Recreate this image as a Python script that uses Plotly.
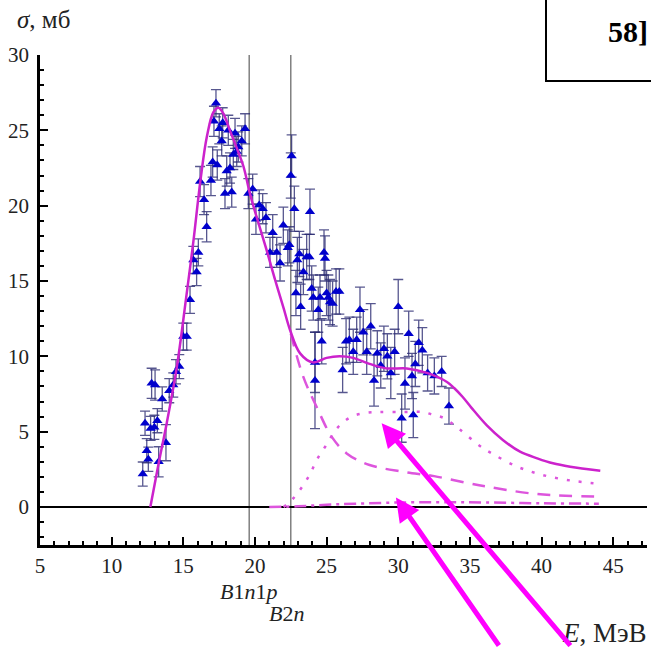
import plotly.graph_objects as go

# ---------------- data ----------------
exp_E = [12.17, 12.33, 12.45, 12.56, 12.72, 12.79, 12.98, 13.03, 13.19, 13.28,
         13.53, 13.79, 14.02, 14.30, 14.49, 14.72, 15.00, 15.24, 15.47, 15.70,
         15.93, 16.05, 16.17, 16.45, 16.63, 16.93, 17.05, 17.14, 17.28, 17.37,
         17.51, 17.68, 17.75, 17.91, 18.03, 18.14, 18.26, 18.38, 18.49, 18.61,
         18.73, 18.84, 19.08, 19.31, 19.54, 19.84, 20.07, 20.30, 20.54, 20.77,
         21.05, 21.24, 21.52, 21.75, 21.98, 22.29, 22.40, 22.50, 22.56, 22.75,
         22.86, 22.96, 23.10, 23.19, 23.38, 23.61, 23.80, 23.84, 23.96, 24.07,
         24.19, 24.19, 24.42, 24.54, 24.66, 24.82, 24.89, 25.00, 25.12, 25.24,
         25.42, 25.66, 25.89, 26.12, 26.36, 26.59, 26.86, 27.10, 27.33, 27.56,
         27.80, 28.08, 28.31, 28.54, 28.78, 29.00, 29.24, 29.48, 29.75, 30.00,
         30.24, 30.47, 30.73, 30.96, 31.05, 31.19, 31.43, 31.68, 32.05, 32.52,
         33.03, 33.54]
exp_sigma = [2.19, 5.56, 3.74, 3.17, 5.22, 8.21, 5.29, 8.10, 5.73, 3.00,
             7.17, 4.27, 7.72, 8.10, 8.98, 9.32, 11.31, 11.31, 13.75, 16.40,
             15.60, 16.90, 21.60, 20.40, 18.60, 21.67, 22.90, 25.60, 26.80, 22.70,
             25.10, 24.30, 25.50, 20.80, 22.30, 25.00, 22.50, 20.90, 23.40, 24.80,
             23.60, 23.90, 24.30, 25.10, 20.80, 21.10, 19.10, 20.05, 19.80, 19.20,
             16.90, 18.20, 16.90, 16.20, 18.70, 17.20, 17.40, 22.00, 23.30, 19.80,
             14.20, 16.40, 16.80, 13.30, 15.60, 16.60, 16.60, 19.60, 14.50, 13.90,
             9.60, 8.40, 13.10, 13.90, 11.00, 16.90, 16.50, 14.20, 13.90, 13.60,
             13.50, 14.30, 14.30, 9.10, 11.00, 11.10, 10.30, 11.10, 13.10, 11.60,
             10.30, 12.00, 8.40, 10.20, 9.40, 10.50, 10.00, 8.90, 10.30, 13.30,
             5.90, 8.20, 11.50, 8.70, 6.10, 9.50, 10.90, 10.40, 8.90, 8.70,
             9.00, 6.70]
exp_err = [0.8, 0.8, 0.8, 0.8, 0.8, 1.0, 0.8, 1.0, 0.8, 1.0,
           0.8, 1.2, 0.8, 0.8, 0.8, 0.8, 0.9, 0.9, 0.9, 0.9,
           0.9, 0.9, 1.0, 1.0, 1.0, 1.0, 1.0, 1.0, 0.9, 1.0,
           1.0, 1.0, 1.0, 1.0, 1.0, 1.0, 1.0, 1.0, 1.0, 1.0,
           1.0, 1.0, 1.0, 1.0, 1.0, 1.0, 1.0, 1.0, 1.0, 1.0,
           1.0, 1.2, 1.0, 1.2, 1.2, 1.2, 1.2, 1.5, 1.4, 1.5,
           1.5, 1.5, 1.5, 1.5, 1.5, 1.5, 1.5, 1.5, 1.5, 1.5,
           2.0, 3.2, 1.5, 1.5, 1.5, 1.5, 1.5, 1.5, 1.5, 1.5,
           1.5, 1.5, 1.5, 1.5, 1.5, 1.5, 1.5, 1.5, 1.5, 1.5,
           1.5, 1.5, 1.7, 1.5, 1.5, 1.5, 1.5, 1.7, 1.5, 1.8,
           1.6, 1.7, 1.5, 1.5, 1.5, 1.5, 1.5, 1.5, 1.2, 1.2,
           1.0, 1.2]

total_E = [12.7, 13.3, 13.85, 14.55, 15.2, 15.7, 16.2, 16.65, 17.1, 17.45,
           17.8, 18.25, 18.7, 19.2, 19.65, 20.1, 20.8, 21.4, 22.0, 22.45,
           23.15, 24.05, 25.0, 25.9, 26.85, 28.0, 29.2, 30.6, 32.0, 33.4,
           33.9, 34.5, 35.1, 36.2, 37.3, 38.5, 39.7, 40.8, 42.0, 44.1]
total_sigma = [0.0, 3.0, 5.6, 9.3, 13.9, 17.6, 21.7, 24.6, 26.2, 26.5,
               26.1, 25.0, 23.9, 22.6, 20.8, 19.3, 17.1, 15.1, 13.2, 11.75,
               10.2, 9.6, 9.9, 10.0, 9.9, 9.5, 9.2, 9.2, 8.9, 8.3,
               7.9, 7.3, 6.6, 5.4, 4.45, 3.67, 3.23, 2.9, 2.68, 2.41]

dashed_E = [22.5, 23.37, 24.3, 25.35, 26.4, 28.0, 30.35, 32.5, 34.8, 36.2, 39.7, 44.1]
dashed_sigma = [11.5, 8.65, 6.66, 4.67, 3.56, 2.79, 2.34, 2.05, 1.6, 1.35, 0.86, 0.69]

dotted_E = [22.0, 22.6, 23.3, 23.85, 24.3, 24.9, 25.8, 26.75, 27.8, 28.7, 30.3,
            31.7, 32.5, 33.2, 34.2, 35.7, 36.6, 38.3, 40.1, 42.1, 44.0]
dotted_sigma = [0.0, 0.5, 1.35, 2.2, 3.1, 4.0, 5.3, 6.0, 6.25, 6.3, 6.3,
                6.3, 6.1, 5.9, 5.22, 4.05, 3.52, 2.68, 2.12, 1.75, 1.55]

dashdot_E = [21.0, 23.0, 25.0, 27.0, 30.0, 33.0, 36.0, 40.0, 44.0]
dashdot_sigma = [0.0, 0.05, 0.15, 0.22, 0.3, 0.32, 0.3, 0.25, 0.22]

thresholds = [19.6, 22.5]

x_ticks = [5, 10, 15, 20, 25, 30, 35, 40, 45]
y_ticks = [0, 5, 10, 15, 20, 25, 30]

# ---------------- figure ----------------
W, H = 651, 647
L, R, T, B = 40, 4, 55, 102
x_range = [5, 47.36]
y_range = [-2.52, 30]

def pxx(p):
    return (p - L) / (W - L - R)

def pxy(p):
    return (H - B - p) / (H - T - B)

FONT = "Times New Roman, Liberation Serif, DejaVu Serif, serif"
curve_col = "#cc22cc"
part_col = "#dd55dd"

fig = go.Figure()

fig.add_trace(go.Scatter(
    x=exp_E, y=exp_sigma, mode="markers",
    marker=dict(symbol="triangle-up", size=9, color="#0000cc"),
    error_y=dict(type="data", array=exp_err, visible=True,
                 color="rgba(45,45,115,0.8)", thickness=1.3, width=5),
    showlegend=False))

fig.add_trace(go.Scatter(x=dashdot_E, y=dashdot_sigma, mode="lines",
                         line=dict(color=part_col, width=2.5, dash="12px,5px,3px,5px", shape="spline"),
                         showlegend=False))
fig.add_trace(go.Scatter(x=dotted_E, y=dotted_sigma, mode="lines",
                         line=dict(color=part_col, width=2.5, dash="3px,9px", shape="spline"),
                         showlegend=False))
fig.add_trace(go.Scatter(x=dashed_E, y=dashed_sigma, mode="lines",
                         line=dict(color=part_col, width=2.5, dash="13px,9px", shape="spline"),
                         showlegend=False))
fig.add_trace(go.Scatter(x=total_E, y=total_sigma, mode="lines",
                         line=dict(color=curve_col, width=2.5, shape="spline"),
                         showlegend=False))

shapes = []
for t in thresholds:
    shapes.append(dict(type="line", xref="x", yref="paper", x0=t, x1=t, y0=0, y1=1,
                       line=dict(color="#808080", width=1.5), layer="below"))
# frame box at top right
shapes.append(dict(type="rect", xref="paper", yref="paper",
                   x0=pxx(546), x1=pxx(660), y0=pxy(81), y1=pxy(-3),
                   line=dict(color="black", width=2)))

annotations = [
    dict(xref="paper", yref="paper", x=pxx(15), y=pxy(19), xanchor="left", yanchor="middle",
         text="<i>σ</i>, мб", showarrow=False, font=dict(family=FONT, size=25, color="#222")),
    dict(xref="paper", yref="paper", x=pxx(649), y=pxy(633), xanchor="right", yanchor="middle",
         text="<i>E</i>, МэВ", showarrow=False, font=dict(family=FONT, size=27, color="#222")),
    dict(xref="paper", yref="paper", x=pxx(218), y=pxy(591), xanchor="left", yanchor="middle",
         text="<i>B</i>1<i>n</i>1<i>p</i>", showarrow=False, font=dict(family=FONT, size=22, color="#222")),
    dict(xref="paper", yref="paper", x=pxx(267), y=pxy(613), xanchor="left", yanchor="middle",
         text="<i>B</i>2<i>n</i>", showarrow=False, font=dict(family=FONT, size=22, color="#222")),
    dict(xref="paper", yref="paper", x=pxx(606), y=pxy(31), xanchor="left", yanchor="middle",
         text="<b>58]</b>", showarrow=False, font=dict(family=FONT, size=30, color="black")),
    dict(x=28.84, y=5.56, xref="x", yref="y", ax=190, ay=230, text="", showarrow=True,
         arrowhead=2, arrowsize=0.95, arrowwidth=5, arrowcolor="#ff00ff"),
    dict(x=29.84, y=0.64, xref="x", yref="y", ax=104, ay=155, text="", showarrow=True,
         arrowhead=2, arrowsize=0.95, arrowwidth=5, arrowcolor="#ff00ff"),
]

fig.update_layout(
    width=W, height=H,
    margin=dict(l=L, r=R, t=T, b=B, pad=0),
    paper_bgcolor="white", plot_bgcolor="white",
    shapes=shapes, annotations=annotations,
    showlegend=False,
    xaxis=dict(range=x_range, tickvals=x_ticks, ticktext=[str(v) for v in x_ticks],
               ticks="inside", ticklen=8, tickwidth=2, tickcolor="black",
               showline=True, linecolor="black", linewidth=2.5, mirror=False,
               showgrid=False, zeroline=False,
               minor=dict(dtick=1, tick0=5, ticks="inside", ticklen=4, tickwidth=1.5, tickcolor="black"),
               tickfont=dict(family=FONT, size=21, color="#222"), ticklabelstandoff=0),
    yaxis=dict(range=y_range, tickvals=y_ticks, ticktext=[str(v) for v in y_ticks],
               ticks="inside", ticklen=8, tickwidth=2, tickcolor="black",
               showline=True, linecolor="black", linewidth=2.5, mirror=False,
               showgrid=False, zeroline=True, zerolinecolor="black", zerolinewidth=1.8,
               minor=dict(dtick=1, tick0=0, ticks="inside", ticklen=4, tickwidth=1.5, tickcolor="black"),
               tickfont=dict(family=FONT, size=21, color="#222"), ticklabelstandoff=4),
)

fig.write_html("out.html")
